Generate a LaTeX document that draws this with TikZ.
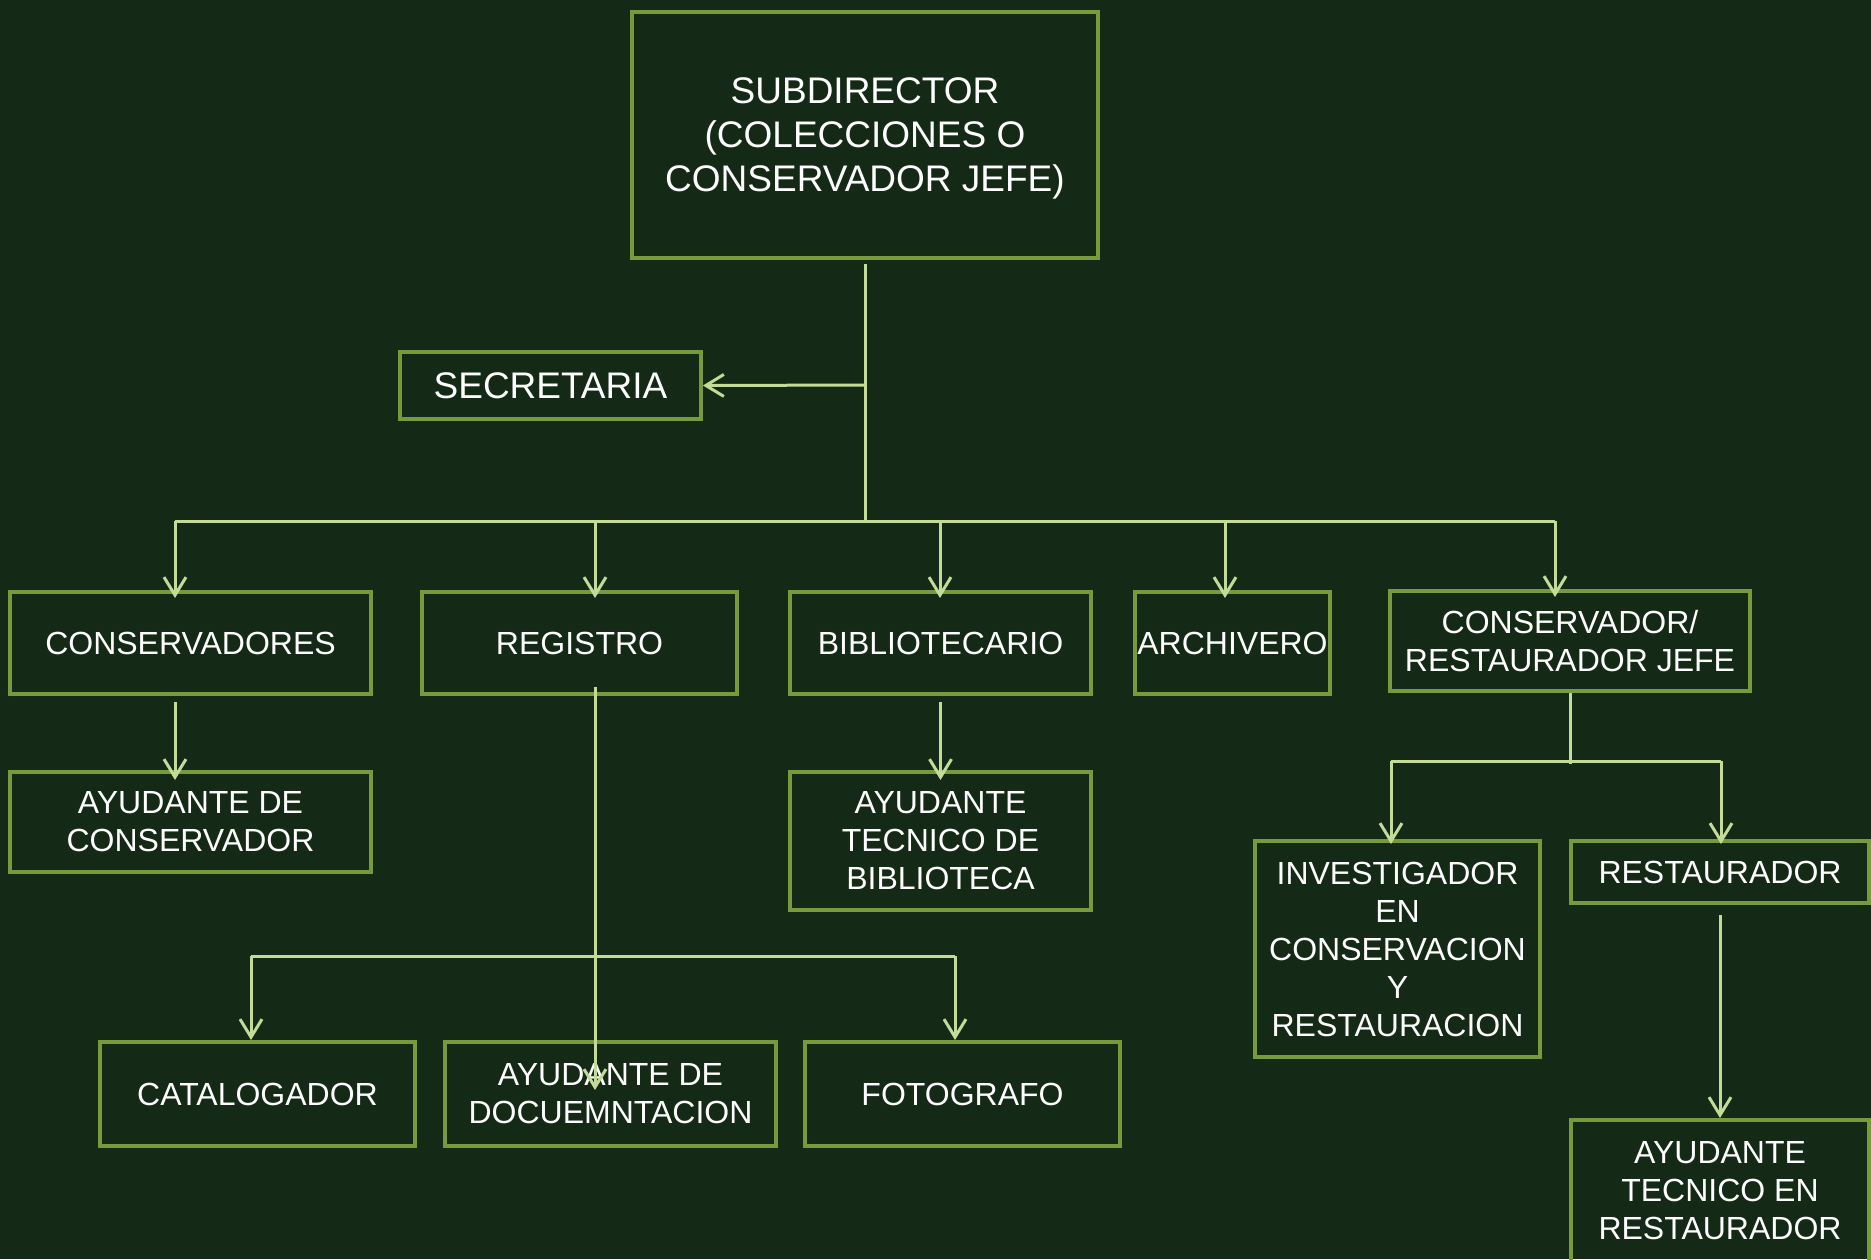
\documentclass[tikz,border=0pt]{standalone}
\usepackage{fontspec}
\setmainfont{Liberation Sans}
\usetikzlibrary{arrows.meta}

\definecolor{bgdark}{HTML}{142916}
\definecolor{boxline}{HTML}{789A3C}
\definecolor{connline}{HTML}{C4DA98}

\tikzset{
  orgbox/.style={draw=boxline,line width=4pt,text=white,align=center,
    inner sep=0pt,font=\fontsize{32}{38}\selectfont},
  bigbox/.style={orgbox,font=\fontsize{37}{44}\selectfont},
  conn/.style={draw=connline,line width=3pt},
  arr/.style={conn,-{Straight Barb[length=18pt,width=22pt]}},
}

\begin{document}
\begin{tikzpicture}[x=1pt,y=-1pt]
    \useasboundingbox (0,0) rectangle (1871,1259);
    \fill[bgdark] (0,0) rectangle (1871,1259);

    % boxes
    \node[bigbox,minimum width=466pt,minimum height=246pt] (sub) at (865,135)
      {\raisebox{-10pt}[0pt][0pt]{\begin{tabular}{@{}c@{}}SUBDIRECTOR\\(COLECCIONES O\\CONSERVADOR JEFE)\end{tabular}}};
    \node[bigbox,minimum width=301pt,minimum height=67pt] (sec) at (550.5,385.5) {SECRETARIA};

    \node[orgbox,minimum width=361pt,minimum height=102pt] (cons) at (190.5,643) {CONSERVADORES};
    \node[orgbox,minimum width=315pt,minimum height=102pt] (reg) at (579.5,643) {REGISTRO};
    \node[orgbox,minimum width=301pt,minimum height=102pt] (bib) at (940.5,643) {BIBLIOTECARIO};
    \node[orgbox,minimum width=195pt,minimum height=102pt] (arch) at (1232.5,643) {ARCHIVERO};
    \node[orgbox,minimum width=360pt,minimum height=100pt] (crj) at (1570,641)
      {CONSERVADOR/\\RESTAURADOR JEFE};

    \node[orgbox,minimum width=361pt,minimum height=100pt] (ayc) at (190.5,822)
      {AYUDANTE DE\\CONSERVADOR};
    \node[orgbox,minimum width=301pt,minimum height=138pt] (atb) at (940.5,841)
      {AYUDANTE\\TECNICO DE\\BIBLIOTECA};

    \node[orgbox,minimum width=315pt,minimum height=104pt] (cat) at (257.5,1094) {CATALOGADOR};
    \node[orgbox,minimum width=331pt,minimum height=104pt] (adoc) at (610.5,1094)
      {AYUDANTE DE\\DOCUEMNTACION};
    \node[orgbox,minimum width=315pt,minimum height=104pt] (fot) at (962.5,1094) {FOTOGRAFO};

    \node[orgbox,minimum width=285pt,minimum height=216pt] (inv) at (1397.5,949)
      {INVESTIGADOR\\EN\\CONSERVACION\\Y\\RESTAURACION};
    \node[orgbox,minimum width=298pt,minimum height=62pt] (res) at (1720,872) {RESTAURADOR};
    \node[orgbox,minimum width=298pt,minimum height=142pt] (atr) at (1720,1191)
      {AYUDANTE\\TECNICO EN\\RESTAURADOR};

    % connectors
    \coordinate (hub) at (865,521);
    \coordinate (secj) at (865,385);
    \draw[conn] ([yshift=-4pt]sub.south) -- (hub);
    \draw[arr] (secj) -- (sec.east);
    \draw[conn] (175,521) -- (1555,521);
    \foreach \x/\n in {175/cons,595/reg,940/bib,1225/arch,1555/crj}{
      \coordinate (d\n) at (\x,521);
      \draw[arr,shorten >=-8pt] (d\n) -- (d\n |- \n.north);
    }

    \coordinate (ctop) at (175,702);
    \draw[arr,shorten >=-10pt] (ctop) -- (ctop |- ayc.north);
    \draw[arr,shorten >=-10pt] ([yshift=-6pt]bib.south) -- (atb.north);

    \coordinate (rtop) at (595,687);
    \coordinate (rend) at (595,1090);
    \draw[arr] (rtop) -- (rend);
    \coordinate (lbusL) at (251,956);
    \coordinate (lbusR) at (955,956);
    \draw[conn] (lbusL) -- (lbusR);
    \draw[arr] (lbusL) -- (lbusL |- cat.north);
    \draw[arr] (lbusR) -- (lbusR |- fot.north);

    \coordinate (rbusL) at (1391,761);
    \coordinate (rbusR) at (1721,761);
    \draw[conn] (crj.south) -- (1570,764);
    \draw[conn] (rbusL) -- (rbusR);
    \draw[arr,shorten >=-5pt] (rbusL) -- (rbusL |- inv.north);
    \draw[arr,shorten >=-5pt] (rbusR) -- (rbusR |- res.north);
    \draw[arr] ([yshift=-10pt]res.south) -- (atr.north);
\end{tikzpicture}
\end{document}
